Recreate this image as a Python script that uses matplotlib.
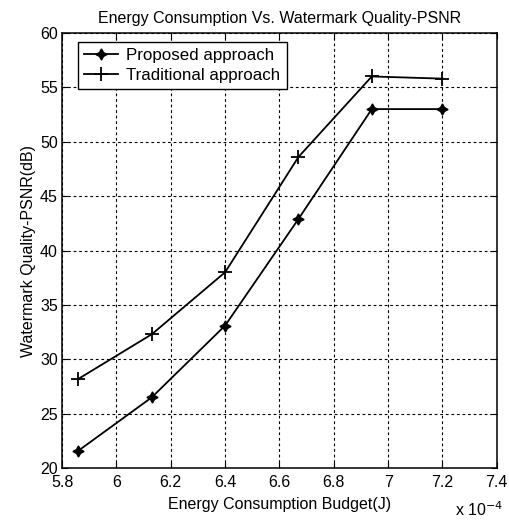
import matplotlib
matplotlib.use("Agg")
import matplotlib.pyplot as plt

plt.rcParams['font.family'] = ['Liberation Sans', 'DejaVu Sans']

energy_budget = [5.86, 6.13, 6.40, 6.67, 6.94, 7.20]  # x 1e-4 J
proposed = [21.6, 26.5, 33.1, 42.9, 53.0, 53.0]
traditional = [28.2, 32.3, 38.0, 48.6, 56.0, 55.8]
xticks = [5.8, 6.0, 6.2, 6.4, 6.6, 6.8, 7.0, 7.2, 7.4]
xtick_labels = ['5.8', '6', '6.2', '6.4', '6.6', '6.8', '7', '7.2', '7.4']
yticks = [20, 25, 30, 35, 40, 45, 50, 55, 60]

fs = 11.5
fig = plt.figure(figsize=(5.09, 5.23), dpi=100)
ax = fig.add_axes([0.122, 0.105, 0.854, 0.832])

ax.plot(energy_budget, proposed, color='black', lw=1.3, marker=(4, 1, 0),
        ms=8, mew=1.0, label='Proposed approach')
ax.plot(energy_budget, traditional, color='black', lw=1.3, marker='+',
        ms=10, mew=1.3, label='Traditional approach')

ax.set_xlim(5.8, 7.4)
ax.set_ylim(20, 60)
ax.set_xticks(xticks)
ax.set_xticklabels(xtick_labels)
ax.set_yticks(yticks)
ax.grid(True, color='black', linestyle=(0, (2.5, 2.5)), linewidth=0.8)
ax.tick_params(direction='in', top=True, right=True, labelsize=fs, length=4)
ax.tick_params(axis='x', pad=5)
ax.tick_params(axis='y', pad=3)
for s in ax.spines.values():
    s.set_linewidth(1.1)

ax.set_title('Energy Consumption Vs. Watermark Quality-PSNR', fontsize=fs, pad=7)
ax.set_xlabel('Energy Consumption Budget(J)', fontsize=fs, labelpad=5)
ax.set_ylabel('Watermark Quality-PSNR(dB)', fontsize=fs, labelpad=3)
fig.text(0.893, 0.008, r'x 10$^{-4}$', fontsize=fs, ha='left', va='bottom')

leg = ax.legend(loc='upper left', bbox_to_anchor=(0.037, 0.98), fontsize=12.2,
                frameon=True, fancybox=False, edgecolor='black', framealpha=1,
                borderpad=0.35, labelspacing=0.32, handlelength=2.0, handletextpad=0.5,
                borderaxespad=0)
leg.get_frame().set_linewidth(1.0)

fig.savefig('out.png', dpi=100)
